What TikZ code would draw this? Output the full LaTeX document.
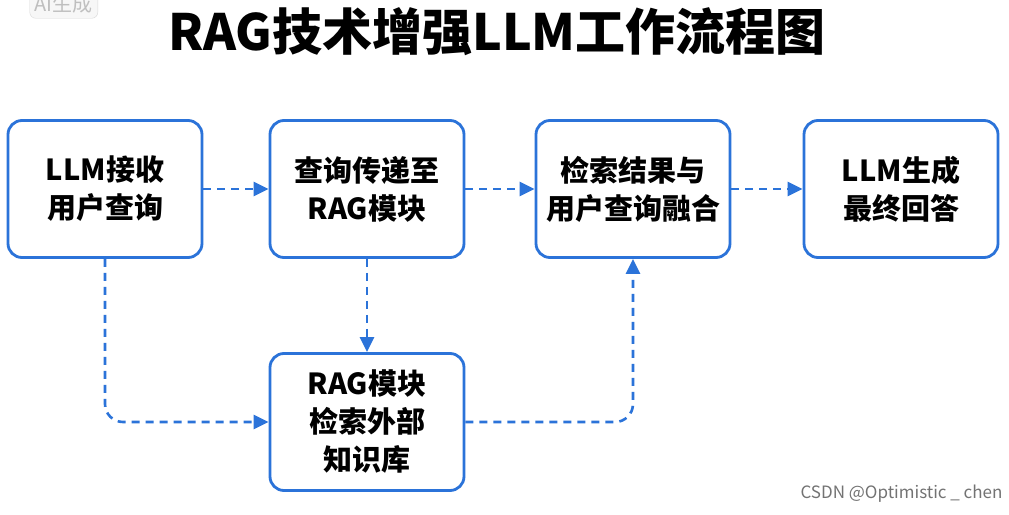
\documentclass[tikz,border=0pt]{standalone}
\usepackage{fontspec}
\setmainfont{Noto Sans CJK SC}
\usetikzlibrary{arrows.meta}
\definecolor{bl}{HTML}{2B73D9}
\begin{document}
\begin{tikzpicture}[x=1pt,y=-1pt,
 box/.style={draw=bl,line width=2.8pt,rounded corners=14pt,minimum width=194pt,minimum height=137pt,align=center,font=\fontsize{29}{38}\selectfont\bfseries,fill=white},
 arr/.style={draw=bl,line width=2.6pt,dash pattern=on 8pt off 6pt,-{Triangle[length=15pt,width=14pt]},rounded corners=18pt}]
\useasboundingbox (0,0) rectangle (1009,514);
\fill[white] (0,0) rectangle (1009,514);
\node[font=\fontsize{50}{54}\selectfont\bfseries] (t) at (497,32) {RAG技术增强LLM工作流程图};
\node[draw=black!15,fill=black!3,rounded corners=6pt,text=black!25,font=\fontsize{20}{22}\selectfont,anchor=east,inner sep=5pt] (wm) at (98,4) {AI生成};
\node[box] (a) at (105,189) {LLM接收\\用户查询};
\node[box] (b) at (367,189) {查询传递至\\RAG模块};
\node[box] (c) at (633,189) {检索结果与\\用户查询融合};
\node[box] (d) at (901,189) {LLM生成\\最终回答};
\node[box] (e) at (367,422) {RAG模块\\检索外部\\知识库};
\node[text=black!55,font=\fontsize{17}{18}\selectfont,anchor=south east] (cs) at (1006,506) {CSDN @Optimistic \_ chen};
\draw[arr] (a.east) -- (b.west);
\draw[arr] (b.east) -- (c.west);
\draw[arr] (c.east) -- (d.west);
\draw[arr] (b.south) -- (e.north);
\draw[arr] (a.south) |- (e.west);
\draw[arr] (e.east) -| (c.south);
\end{tikzpicture}
\end{document}
